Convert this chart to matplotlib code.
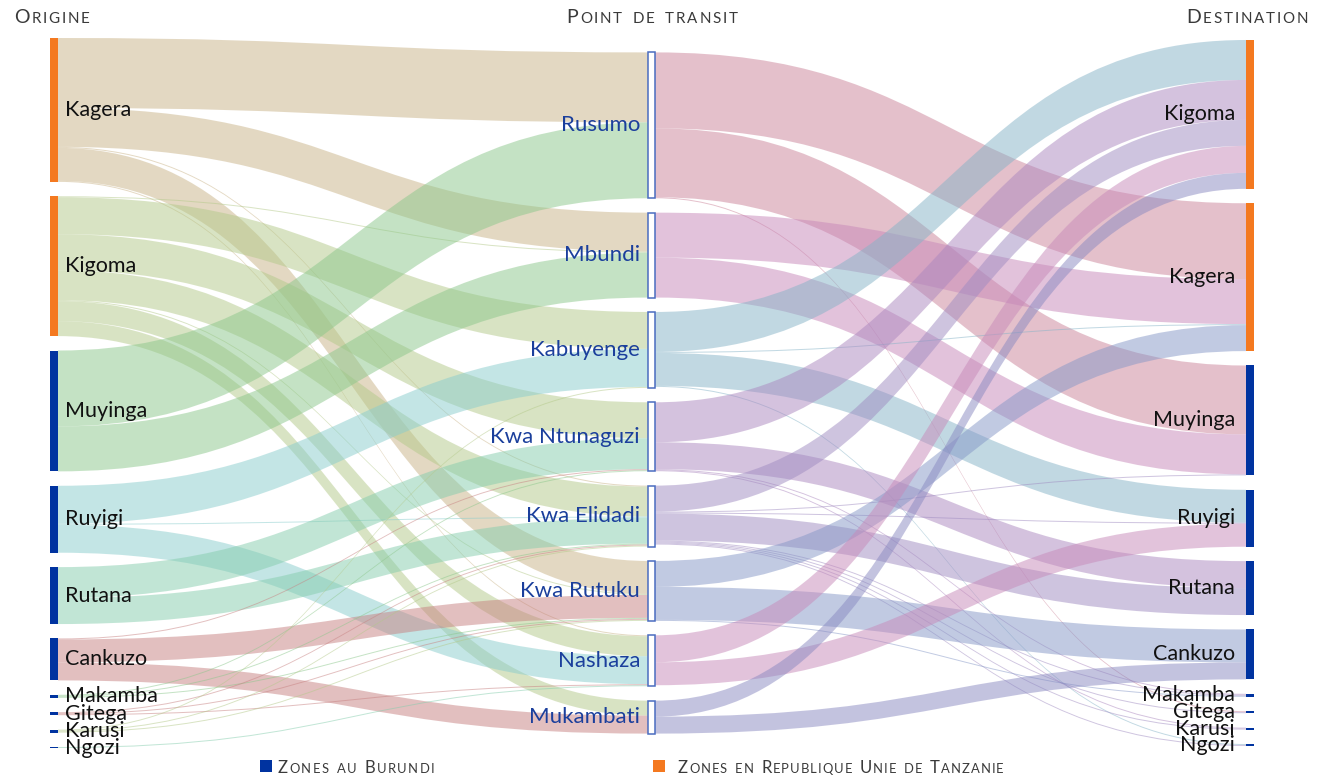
import matplotlib
matplotlib.use("Agg")
import matplotlib.pyplot as plt
from matplotlib.path import Path
from matplotlib.patches import PathPatch, Rectangle

# ---- data -------------------------------------------------------------
origins = ["Kagera", "Kigoma", "Muyinga", "Ruyigi", "Rutana", "Cankuzo",
           "Makamba", "Gitega", "Karusi", "Ngozi"]
origin_zone = ["TZ", "TZ", "BI", "BI", "BI", "BI", "BI", "BI", "BI", "BI"]

transits = ["Rusumo", "Mbundi", "Kabuyenge", "Kwa Ntunaguzi", "Kwa Elidadi",
            "Kwa Rutuku", "Nashaza", "Mukambati"]

destinations = ["Kigoma", "Kagera", "Muyinga", "Ruyigi", "Rutana", "Cankuzo",
                 "Makamba", "Gitega", "Karusi", "Ngozi"]
dest_zone = ["TZ", "TZ", "BI", "BI", "BI", "BI", "BI", "BI", "BI", "BI"]

# origin -> transit
flow_src = ["Kagera", "Kagera", "Kagera", "Kagera", "Kagera",
            "Kigoma", "Kigoma", "Kigoma", "Kigoma", "Kigoma", "Kigoma", "Kigoma",
            "Muyinga", "Muyinga",
            "Ruyigi", "Ruyigi", "Ruyigi",
            "Rutana", "Rutana",
            "Cankuzo", "Cankuzo", "Cankuzo",
            "Makamba", "Makamba", "Makamba",
            "Gitega", "Gitega", "Gitega",
            "Karusi", "Karusi", "Karusi",
            "Ngozi"]
flow_via = ["Rusumo", "Mbundi", "Kwa Elidadi", "Kwa Rutuku", "Nashaza",
            "Mbundi", "Kabuyenge", "Kwa Ntunaguzi", "Kwa Elidadi", "Kwa Rutuku", "Nashaza", "Mukambati",
            "Rusumo", "Mbundi",
            "Kabuyenge", "Kwa Elidadi", "Nashaza",
            "Kwa Ntunaguzi", "Kwa Elidadi",
            "Kwa Ntunaguzi", "Kwa Rutuku", "Mukambati",
            "Kwa Ntunaguzi", "Kwa Elidadi", "Kwa Rutuku",
            "Kwa Elidadi", "Kwa Rutuku", "Nashaza",
            "Kabuyenge", "Kwa Elidadi", "Kwa Rutuku",
            "Nashaza"]
flow_in_val = [70, 39, 1, 33, 1,
               1, 37, 36, 30, 1, 20, 15,
               76, 45,
               38, 1, 28,
               31, 26,
               1, 23, 18,
               1, 1, 1,
               1, 1, 1,
               1, 1, 1,
               1]

# transit -> destination
out_via = ["Rusumo", "Rusumo", "Rusumo",
           "Mbundi", "Mbundi",
           "Kabuyenge", "Kabuyenge", "Kabuyenge", "Kabuyenge",
           "Kwa Ntunaguzi", "Kwa Ntunaguzi", "Kwa Ntunaguzi", "Kwa Ntunaguzi",
           "Kwa Elidadi", "Kwa Elidadi", "Kwa Elidadi", "Kwa Elidadi",
           "Kwa Elidadi", "Kwa Elidadi", "Kwa Elidadi", "Kwa Elidadi",
           "Kwa Rutuku", "Kwa Rutuku", "Kwa Rutuku",
           "Nashaza", "Nashaza",
           "Mukambati", "Mukambati"]
out_dst = ["Kagera", "Muyinga", "Gitega",
           "Kagera", "Muyinga",
           "Kigoma", "Kagera", "Ruyigi", "Ngozi",
           "Kigoma", "Rutana", "Makamba", "Karusi",
           "Kigoma", "Muyinga", "Ruyigi", "Rutana",
           "Makamba", "Gitega", "Karusi", "Ngozi",
           "Kagera", "Cankuzo", "Makamba",
           "Kigoma", "Ruyigi",
           "Kigoma", "Cankuzo"]
out_val = [76, 69, 1,
           45, 40,
           40, 1, 33, 1,
           40, 27, 1, 1,
           26, 1, 1, 27,
           1, 1, 1, 1,
           26, 33, 1,
           27, 23,
           16, 17]

# ---- styles -----------------------------------------------------------
origin_colors = {
    "Kagera": "#c9b387", "Kigoma": "#b3c989", "Muyinga": "#8bc78b",
    "Ruyigi": "#89cdcd", "Rutana": "#85cdad", "Cankuzo": "#c78181",
    "Makamba": "#8bc78b", "Gitega": "#c78181", "Karusi": "#b3c989",
    "Ngozi": "#85cdad",
}
transit_colors = {
    "Rusumo": "#cb8399", "Mbundi": "#c787b9", "Kabuyenge": "#85b3c7",
    "Kwa Ntunaguzi": "#ab87bf", "Kwa Elidadi": "#9f8bc1",
    "Kwa Rutuku": "#8597c7", "Nashaza": "#c789b9", "Mukambati": "#8989c1",
}
zone_colors = {"TZ": "#f47920", "BI": "#0033a0"}
label_font = "Lato"
head_color = "#3a3a3a"
transit_text = "#1b3f9c"

W, H = 1320, 776
fig = plt.figure(figsize=(W / 100, H / 100), dpi=100)
ax = fig.add_axes([0, 0, 1, 1])
ax.set_xlim(0, W)
ax.set_ylim(H, 0)
ax.axis("off")

# ---- layout -----------------------------------------------------------
x_left, x_mid, x_right = 50, 648, 1246
bar_w, mid_w = 8, 7
gap = 14.4
y_top, y_bot = 38, 748


def totals(names, src, dst, vals, side):
    t = {n: 0.0 for n in names}
    for s, d, v in zip(src, dst, vals):
        t[s if side == 0 else d] += v
    return t


tot_o = totals(origins, flow_src, flow_via, flow_in_val, 0)
tot_d = totals(destinations, out_via, out_dst, out_val, 1)
tin = totals(transits, flow_src, flow_via, flow_in_val, 1)
tout = totals(transits, out_via, out_dst, out_val, 0)
tot_t = {n: max(tin[n], tout[n]) for n in transits}

cols = [(origins, tot_o), (transits, tot_t), (destinations, tot_d)]
k = min((y_bot - y_top - gap * (len(n) - 1)) / sum(t.values()) for n, t in cols)
y_c = (y_top + y_bot) / 2


def stack(names, t):
    h = sum(t[n] * k for n in names) + gap * (len(names) - 1)
    y = y_c - h / 2
    pos = {}
    for n in names:
        pos[n] = [y, y + t[n] * k]
        y += t[n] * k + gap
    return pos


pos_o = stack(origins, tot_o)
pos_t = stack(transits, tot_t)
pos_d = stack(destinations, tot_d)


def band(x0, s0, s1, x1, t0, t1, color):
    xm = (x0 + x1) / 2
    verts = [(x0, s0), (xm, s0), (xm, t0), (x1, t0),
             (x1, t1), (xm, t1), (xm, s1), (x0, s1), (x0, s0)]
    codes = [Path.MOVETO, Path.CURVE4, Path.CURVE4, Path.CURVE4,
             Path.LINETO, Path.CURVE4, Path.CURVE4, Path.CURVE4, Path.CLOSEPOLY]
    ax.add_patch(PathPatch(Path(verts, codes), facecolor=color, alpha=0.5,
                           lw=0, zorder=1))


def draw_links(src, dst, vals, a_list, b_list, pos_a, pos_b, xa, xb, colors, by_src):
    links = list(zip(src, dst, vals))
    off_a = {n: pos_a[n][0] for n in a_list}
    off_b = {n: pos_b[n][0] for n in b_list}
    seg_a, seg_b = {}, {}
    # bands leave a node in the order of their other end, as in d3-sankey
    for i, (s, d, v) in sorted(enumerate(links), key=lambda e: (a_list.index(e[1][0]), b_list.index(e[1][1]))):
        seg_a[i] = (off_a[s], off_a[s] + v * k)
        off_a[s] += v * k
    for i, (s, d, v) in sorted(enumerate(links), key=lambda e: (b_list.index(e[1][1]), a_list.index(e[1][0]))):
        seg_b[i] = (off_b[d], off_b[d] + v * k)
        off_b[d] += v * k
    for i, (s, d, v) in enumerate(links):
        c = colors[s] if by_src else colors[d]
        band(xa, *seg_a[i], xb, *seg_b[i], c)


draw_links(flow_src, flow_via, flow_in_val, origins, transits, pos_o, pos_t,
           x_left + bar_w, x_mid, origin_colors, True)
draw_links(out_via, out_dst, out_val, transits, destinations, pos_t, pos_d,
           x_mid + mid_w, x_right, transit_colors, True)

# ---- nodes ------------------------------------------------------------
for n, z in zip(origins, origin_zone):
    y0, y1 = pos_o[n]
    ax.add_patch(Rectangle((x_left, y0), bar_w, max(y1 - y0, 1), color=zone_colors[z], lw=0, zorder=3))
    ax.text(x_left + bar_w + 7, (y0 + y1) / 2, n, ha="left", va="center",
            fontsize=15.5, family=label_font, color="#111111", zorder=4)

for n in transits:
    y0, y1 = pos_t[n]
    ax.add_patch(Rectangle((x_mid, y0), mid_w, y1 - y0, facecolor="white",
                           edgecolor="#4a6cc0", lw=1.1, zorder=3))
    ax.text(x_mid - 8, (y0 + y1) / 2, n, ha="right", va="center",
            fontsize=16, family=label_font, color=transit_text, zorder=4)

for n, z in zip(destinations, dest_zone):
    y0, y1 = pos_d[n]
    ax.add_patch(Rectangle((x_right, y0), bar_w, max(y1 - y0, 1), color=zone_colors[z], lw=0, zorder=3))
    ax.text(x_right - 11, (y0 + y1) / 2, n, ha="right", va="center",
            fontsize=15.5, family=label_font, color="#111111", zorder=4)

# ---- small caps headers & legend --------------------------------------
renderer = fig.canvas.get_renderer()


def small_caps(x, y, text, size, ha="left", track=1.3, color=head_color):
    parts = []
    for ch in text:
        if ch == " ":
            parts.append((None, size * 0.35 * 100 / 72))
            continue
        s = size if ch.isupper() else size * 0.78
        t = ax.text(0, y, ch.upper(), fontsize=s, family=label_font,
                    color=color, va="baseline", ha="left")
        w = t.get_window_extent(renderer).width
        parts.append((t, w))
    total = sum(w for _, w in parts) + track * (len(parts) - 1)
    if ha == "center":
        x -= total / 2
    elif ha == "right":
        x -= total
    for t, w in parts:
        if t is not None:
            t.set_x(x)
        x += w + track


small_caps(14, 23, "Origine", 14, track=1.8)
small_caps(652, 23, "Point de transit", 14, ha="center", track=1.8)
small_caps(1308, 23, "Destination", 14, ha="right", track=1.8)

ax.add_patch(Rectangle((260, 760), 12, 12, color=zone_colors["BI"], lw=0))
small_caps(278, 773, "Zones au Burundi", 12)
ax.add_patch(Rectangle((653, 760), 12, 12, color=zone_colors["TZ"], lw=0))
small_caps(678, 773, "Zones en Republique Unie de Tanzanie", 12, track=1.0)

fig.savefig("out.png", dpi=100, facecolor="white")
